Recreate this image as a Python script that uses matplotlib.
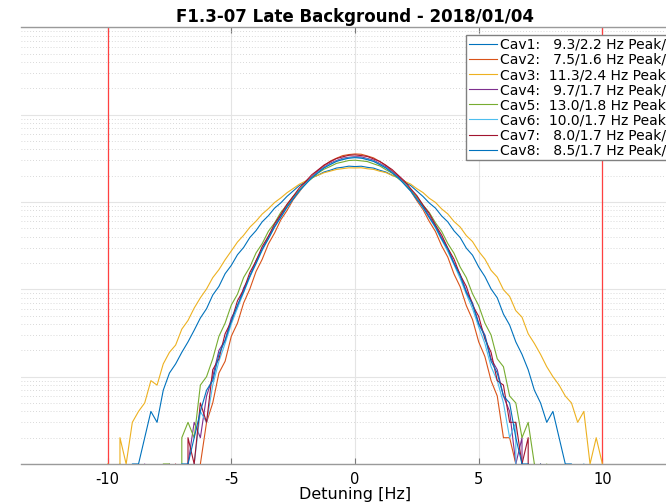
import numpy as np
import matplotlib
matplotlib.use('Agg')
import matplotlib.pyplot as plt
from matplotlib.ticker import LogLocator

plt.rcParams['font.family'] = ['DejaVu Sans']

title = 'F1.3-07 Late Background - 2018/01/04'
cavities = ['Cav1', 'Cav2', 'Cav3', 'Cav4', 'Cav5', 'Cav6', 'Cav7', 'Cav8']
peak_hz = [9.3, 7.5, 11.3, 9.7, 13.0, 10.0, 8.0, 8.5]
rms_hz = [2.2, 1.6, 2.4, 1.7, 1.8, 1.7, 1.7, 1.7]
limits_hz = [-10, 10]

# bin centres, -10 .. 10 Hz in 0.25 Hz steps
detuning = np.arange(-40, 41) * 0.25

# counts per bin (left tail, core, right tail)
cav1 = [0, 0, 1, 0, 1, 1, 2, 4, 3, 7,
        11, 14, 19, 25, 34, 47, 60, 86, 108, 151,
        188, 249, 302, 392, 470, 593, 697, 851, 976, 1158,
        1336, 1542, 1689, 1893, 2027, 2205, 2311, 2446, 2498, 2572,
        2544,
        2567, 2493, 2442, 2307, 2202, 2026, 1891, 1691, 1542, 1335,
        1156, 975, 852, 693, 592, 468, 392, 296, 246, 180,
        140, 101, 80, 52, 39, 25, 18, 12, 7, 5,
        3, 4, 2, 1, 1, 0, 1, 0, 0, 0]
cav2 = [0, 0, 0, 0, 0, 0, 0, 0, 0, 0,
        0, 0, 0, 1, 0, 1, 3, 5, 11, 15,
        29, 41, 70, 101, 160, 221, 331, 442, 624, 797,
        1061, 1306, 1643, 1938, 2302, 2600, 2940, 3168, 3394, 3490,
        3548,
        3520, 3366, 3197, 2905, 2631, 2270, 1969, 1610, 1335, 1035,
        818, 600, 460, 316, 234, 150, 107, 65, 45, 25,
        17, 9, 6, 2, 2, 1, 0, 1, 0, 0,
        0, 0, 0, 0, 0, 0, 0, 0, 0, 0]
cav3 = [1, 0, 2, 1, 3, 4, 5, 9, 8, 14,
        19, 23, 35, 44, 61, 80, 101, 136, 168, 218,
        275, 348, 416, 514, 603, 728, 838, 986, 1112, 1275,
        1425, 1596, 1737, 1900, 2021, 2163, 2255, 2357, 2407, 2461,
        2452,
        2464, 2401, 2362, 2250, 2168, 2017, 1906, 1730, 1602, 1420,
        1281, 1104, 990, 834, 730, 599, 517, 412, 352, 272,
        222, 165, 138, 99, 83, 57, 48, 31, 24, 18,
        13, 10, 8, 6, 5, 3, 4, 1, 2, 1]
cav4 = [0, 0, 0, 0, 0, 0, 1, 0, 0, 0,
        1, 0, 0, 1, 3, 2, 6, 10, 20, 26,
        47, 63, 104, 140, 214, 284, 402, 524, 703, 882,
        1131, 1360, 1661, 1929, 2250, 2506, 2790, 2978, 3172, 3251,
        3305,
        3279, 3150, 3008, 2761, 2530, 2224, 1957, 1642, 1385, 1108,
        899, 688, 537, 389, 296, 201, 149, 95, 70, 41,
        30, 16, 12, 6, 4, 1, 2, 0, 1, 0,
        0, 0, 0, 0, 0, 0, 0, 0, 0, 0]
cav5 = [0, 0, 0, 0, 0, 0, 0, 0, 0, 1,
        1, 0, 2, 3, 2, 8, 10, 16, 29, 41,
        66, 88, 137, 180, 261, 334, 462, 575, 760, 921,
        1157, 1360, 1632, 1852, 2140, 2372, 2551, 2766, 2870, 2985,
        3010,
        2958, 2902, 2735, 2589, 2341, 2138, 1851, 1632, 1359, 1150,
        919, 760, 579, 462, 335, 259, 180, 136, 89, 65,
        41, 30, 16, 13, 6, 5, 2, 3, 1, 0,
        1, 0, 0, 0, 0, 0, 0, 0, 0, 0]
cav6 = [0, 0, 0, 0, 0, 0, 0, 0, 0, 0,
        0, 0, 1, 0, 1, 4, 3, 8, 15, 24,
        40, 61, 92, 138, 197, 279, 381, 515, 671, 861,
        1090, 1338, 1609, 1899, 2188, 2466, 2721, 2930, 3098, 3201,
        3262,
        3190, 3101, 2929, 2712, 2461, 2183, 1893, 1603, 1330, 1080,
        853, 668, 504, 371, 271, 192, 133, 88, 60, 37,
        24, 13, 9, 5, 2, 3, 0, 1, 0, 0,
        0, 0, 0, 0, 0, 0, 0, 0, 0, 0]
cav7 = [0, 0, 0, 0, 0, 0, 0, 0, 0, 0,
        0, 1, 0, 2, 1, 5, 3, 12, 16, 31,
        43, 74, 99, 156, 211, 309, 405, 562, 719, 941,
        1158, 1447, 1712, 2048, 2321, 2650, 2889, 3141, 3290, 3425,
        3460,
        3398, 3318, 3112, 2915, 2620, 2352, 2019, 1738, 1421, 1182,
        921, 737, 548, 420, 297, 222, 146, 108, 66, 49,
        27, 19, 9, 8, 3, 3, 1, 2, 0, 1,
        0, 0, 0, 0, 0, 0, 0, 0, 0, 0]
cav8 = [0, 0, 0, 0, 0, 0, 0, 0, 0, 0,
        0, 0, 1, 1, 2, 4, 7, 9, 18, 26,
        43, 66, 94, 142, 198, 287, 379, 520, 667, 872,
        1079, 1344, 1588, 1893, 2158, 2455, 2677, 2915, 3052, 3172,
        3215,
        3181, 3049, 2917, 2676, 2450, 2158, 1897, 1588, 1340, 1072,
        872, 664, 521, 378, 286, 197, 143, 92, 67, 40,
        29, 15, 11, 6, 5, 2, 1, 1, 0, 1,
        0, 0, 0, 0, 0, 0, 0, 0, 0, 0]
counts = [cav1, cav2, cav3, cav4, cav5, cav6, cav7, cav8]

# matlab default colour order, wraps at 8
colors = ['#0072bd', '#d95319', '#edb120', '#7e2f8e',
          '#77ac30', '#4dbeee', '#a2142f', '#0072bd']

for c in counts:
  assert len(c) == len(detuning)

fig = plt.figure(figsize=(6.66, 5.03), dpi=100)
# axes run past the right edge, like the cropped screenshot
ax = fig.add_axes([21/666, 39/503, 668/666, 436.7/503])

for lim in limits_hz:
  ax.axvline(lim, color='#ff4040', lw=0.9, zorder=1)

lines = []
for name, p, r, c, col in zip(cavities, peak_hz, rms_hz, counts, colors):
  label = '%s: %5.1f/%3.1f Hz Peak/RMS' % (name, p, r)
  ln, = ax.plot(detuning, c, color=col, lw=0.8, label=label, zorder=3)
  lines.append(ln)

ax.set_yscale('log')
ax.set_ylim(1, 1e5)
ax.yaxis.set_minor_locator(LogLocator(base=10, subs=np.arange(2, 10)))
ax.set_xlim(-13.5, 13.5)
ax.set_xticks([-10, -5, 0, 5, 10])
ax.set_xticklabels(['-10', '-5', '0', '5', '10'])

ax.grid(True, which='major', color='#e4e4e4', lw=0.8, zorder=0)
ax.yaxis.grid(True, which='minor', color='#cdcdcd', ls=(0, (1, 2.5)), lw=0.6)
ax.set_axisbelow(True)

ax.tick_params(axis='x', which='both', direction='in', top=True, length=4,
               color='#7a7a7a', labelsize=10.5, pad=6)
ax.tick_params(axis='y', which='both', left=False, right=False,
               labelleft=False, length=0)
for side in ['top', 'bottom']:
  ax.spines[side].set_color('#9a9a9a')
  ax.spines[side].set_linewidth(1.0)
ax.spines['left'].set_visible(False)
ax.spines['right'].set_visible(False)

ax.set_xlabel('Detuning [Hz]', fontsize=11.5, labelpad=0)
ax.set_title(title, fontsize=12, fontweight='bold', pad=4)

leg = ax.legend(handles=lines, loc='upper left', borderaxespad=0,
                bbox_to_anchor=(466/666, 1 - 35/503), bbox_transform=fig.transFigure,
                fontsize=10, frameon=True, fancybox=False, framealpha=1,
                edgecolor='#808080', borderpad=0.2, labelspacing=0.08,
                handlelength=2.0, handletextpad=0.25)
leg.get_frame().set_linewidth(1.0)
leg.set_zorder(5)

fig.savefig('out.png', dpi=100)
